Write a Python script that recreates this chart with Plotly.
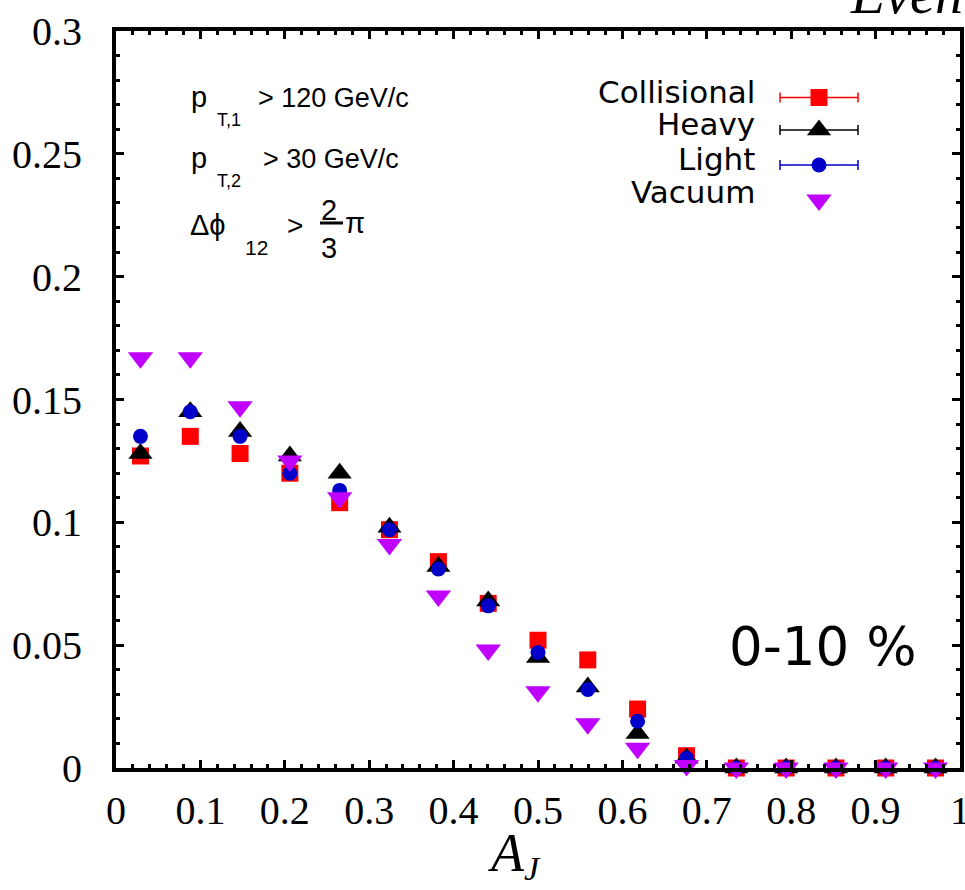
import plotly.graph_objects as go

# ---------------- data ----------------
aj_centers = [0.029, 0.088, 0.147, 0.206, 0.265, 0.324, 0.382, 0.441, 0.500,
              0.559, 0.618, 0.676, 0.735, 0.794, 0.853, 0.912, 0.971]
collisional = [0.127, 0.135, 0.128, 0.120, 0.108, 0.097, 0.084, 0.067, 0.052,
               0.044, 0.024, 0.005, 0.0, 0.0, 0.0, 0.0, 0.0]
heavy = [0.128, 0.145, 0.137, 0.127, 0.120, 0.098, 0.082, 0.068, 0.045,
         0.033, 0.014, 0.004, 0.0, 0.0, 0.0, 0.0, 0.0]
light = [0.135, 0.145, 0.135, 0.120, 0.113, 0.097, 0.081, 0.066, 0.047,
         0.032, 0.019, 0.004, 0.0, 0.0, 0.0, 0.0, 0.0]
vacuum = [0.167, 0.167, 0.147, 0.125, 0.110, 0.091, 0.070, 0.048, 0.031,
          0.018, 0.008, 0.001, 0.0, 0.0, 0.0, 0.0, 0.0]
series_names = ["Collisional", "Heavy", "Light", "Vacuum"]
x_ticks = [0, 0.1, 0.2, 0.3, 0.4, 0.5, 0.6, 0.7, 0.8, 0.9, 1]
y_ticks = [0, 0.05, 0.1, 0.15, 0.2, 0.25, 0.3]

# ---------------- styling ----------------
W, H = 965, 890
L, R, T, B = 116, 960, 31, 768  # plot area in pixels
RED, BLACK, BLUE, PURPLE = "#ff0000", "#000000", "#0000c8", "#bf00ff"
styles = [
    (collisional, RED, "square", 17),
    (heavy, BLACK, "triangle-up", 21),
    (light, BLUE, "circle", 15),
    (vacuum, PURPLE, "triangle-down", 22),
]


def px(x, y):
    return (x - L) / (R - L), (B - y) / (B - T)


fig = go.Figure()
for name, (vals, col, sym, size) in zip(series_names, styles):
    fig.add_trace(go.Scatter(
        x=aj_centers, y=vals, mode="markers", name=name,
        marker=dict(color=col, symbol=sym, size=size, line=dict(width=0)),
        cliponaxis=False, showlegend=False))

# ---------------- custom legend (text left, symbol right) ----------------
leg_x_px = 819
leg_marker_y_px = [97.5, 130, 165, 200]
leg_text_base_px = [103, 135, 170, 203]
lx, _ = px(leg_x_px, 0)
lys = [px(0, yy)[1] for yy in leg_marker_y_px]
for i, (name, (vals, col, sym, size)) in enumerate(zip(series_names, styles)):
    fig.add_trace(go.Scatter(
        x=[lx], y=[lys[i]], xaxis="x2", yaxis="y2", mode="markers",
        marker=dict(color=col, symbol=sym, size=size, line=dict(width=0)),
        showlegend=False, hoverinfo="skip", cliponaxis=False))
shapes = []
for i in range(3):
    col = styles[i][1]
    yy = leg_marker_y_px[i]
    x0, _ = px(780, 0)
    x1, _ = px(858, 0)
    y0 = px(0, yy)[1]
    shapes.append(dict(type="line", xref="paper", yref="paper", x0=x0, x1=x1,
                       y0=y0, y1=y0, line=dict(color=col, width=1.5), layer="below"))
    for xe in (780, 858):
        xp, _ = px(xe, 0)
        shapes.append(dict(type="line", xref="paper", yref="paper", x0=xp, x1=xp,
                           y0=px(0, yy - 5)[1], y1=px(0, yy + 5)[1],
                           line=dict(color=col, width=1.5)))

annotations = []


def ann(text, xp, base, size, family, xanchor="left"):
    x, y = px(xp, base - 0.345 * size)
    annotations.append(dict(
        text=text, x=x, y=y, xref="paper", yref="paper", xanchor=xanchor,
        yanchor="middle", showarrow=False,
        font=dict(family=family, size=size, color="black"), borderpad=0))


SANS_L = "DejaVu Sans"
for name, base in zip(series_names, leg_text_base_px):
    ann(name, 756, base, 31, SANS_L, xanchor="right")

# ---------------- cuts text ----------------
SANS = "Liberation Sans"
ann("p", 190, 107, 29, SANS)
ann("T,1", 216, 126, 18, SANS)
ann("> 120 GeV/c", 257, 107, 27, SANS)
ann("p", 190, 168, 29, SANS)
ann("T,2", 216, 187, 18, SANS)
ann("> 30 GeV/c", 262, 168, 27, SANS)
ann("Δϕ", 189, 235, 29, SANS)
ann("12", 244, 255, 21, SANS)
ann(">", 286, 235, 28, SANS)
ann("2", 320, 220, 29, SANS)
ann("3", 320, 258, 29, SANS)
ann("π", 344, 233, 29, SANS)
fx0, fy = px(320, 223)
fx1, _ = px(343, 223)
shapes.append(dict(type="line", xref="paper", yref="paper", x0=fx0, x1=fx1,
                   y0=fy, y1=fy, line=dict(color="black", width=3), layer="above"))

# centrality label
ann("0-10 %", 918, 665, 53, "DejaVu Sans", xanchor="right")

# axis title and cut-off y label
SERIF = "Liberation Serif"
ann("<i>A</i>", 487, 872, 54, SERIF)
ann("<i>J</i>", 523, 880, 34, SERIF)
ann("<i>Events</i>", 849, 13, 56, SERIF)

axis_common = dict(
    showline=True, linewidth=4, linecolor="black", mirror="ticks",
    ticks="inside", ticklen=8, tickwidth=3, tickcolor="black",
    showgrid=False, zeroline=False, automargin=False,
    ticklabeloverflow="allow",
    tickfont=dict(family=SERIF, size=40, color="black"),
)

fig.update_layout(
    width=W, height=H,
    margin=dict(l=L, r=W - R, t=T, b=H - B, pad=0),
    paper_bgcolor="white", plot_bgcolor="white",
    showlegend=False,
    xaxis=dict(range=[0, 1], tickvals=x_ticks,
               ticktext=[f"{v:g}" for v in x_ticks], ticklabelstandoff=4,
               minor=dict(dtick=0.02, ticklen=4, tickwidth=3, tickcolor="black",
                          ticks="inside", showgrid=False),
               **axis_common),
    yaxis=dict(range=[0, 0.3], tickvals=y_ticks,
               ticktext=[f"{v:g}" for v in y_ticks], ticklabelstandoff=22,
               minor=dict(dtick=0.01, ticklen=4, tickwidth=3, tickcolor="black",
                          ticks="inside", showgrid=False),
               **axis_common),
    xaxis2=dict(range=[0, 1], overlaying="x", visible=False, fixedrange=True),
    yaxis2=dict(range=[0, 1], overlaying="y", visible=False, fixedrange=True),
    shapes=shapes,
    annotations=annotations,
)

fig.write_html(
    "out.html",
    config={"displayModeBar": False},
    post_script="document.body.style.margin='0';document.body.style.padding='0';"
                "document.body.style.overflow='hidden';",
)
